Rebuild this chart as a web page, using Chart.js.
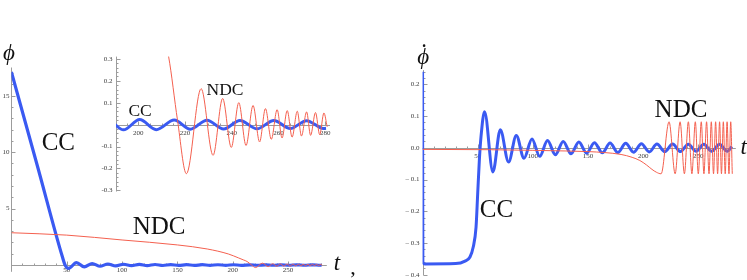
<!DOCTYPE html>
<html>
<head>
<meta charset="utf-8">
<script src="https://cdn.jsdelivr.net/npm/chart.js@4.4.1/dist/chart.umd.min.js"></script>
<style>
  html, body { margin: 0; padding: 0; background: #fff; }
  #wrap { position: relative; width: 747px; height: 280px; overflow: hidden; }
  canvas { position: absolute; left: 0; top: 0; }
</style>
</head>
<body>
<div id="wrap">
  <canvas id="phiChart" width="747" height="280"></canvas>
  <canvas id="insetChart" width="747" height="280"></canvas>
  <canvas id="dotChart" width="747" height="280"></canvas>
</div>
<script>
const ccPhiT = [0, 24, 46, 48.5, 51.7, 58.8, 65.9, 73, 80.1, 87.2, 94.3, 101.4, 108.5, 115.6, 122.7, 129.8,
  136.9, 144, 151.1, 158.2, 165.3, 172.4, 179.5, 186.6, 193.7, 200.6, 207.7, 215.4, 222.3, 229.4, 236.5,
  243.5, 250.8, 258, 265, 272, 279.2, 280.3];
const ccPhiV = [17.1, 8.6, 0.75, 0, -0.3, 0.22, -0.16, 0.13, -0.11, 0.09, -0.08, 0.07, -0.06, 0.055, -0.05, 0.045,
  -0.04, 0.037, -0.034, 0.031, -0.029, 0.027, -0.026, 0.025, -0.024, 0.023, -0.023, 0.021, -0.021, 0.02, -0.02,
  0.019, -0.019, 0.019, -0.018, 0.018, -0.018, -0.017];

// phi(t), NDC run
const ndcPhiT = [0, 50, 100, 150, 177, 196, 205, 209.5, 213, 216.8, 220.6, 226.9, 232, 236.1, 239.8, 243, 246.1,
  249.1, 251.9, 254.4, 256.9, 259.4, 261.5, 263.7, 265.8, 268, 269.8, 272, 273.7, 275.8, 277.6, 279.4, 280.8];
const ndcPhiV = [2.86, 2.65, 2.22, 1.78, 1.42, 0.98, 0.64, 0.46, 0.31, 0.02, -0.224, 0.164, -0.14, 0.119, -0.104, 0.1, -0.095,
  0.087, -0.079, 0.073, -0.067, 0.068, -0.061, 0.064, -0.057, 0.061, -0.052, 0.058, -0.049, 0.055, -0.046, 0.053, -0.01];

// d(phi)/dt, CC run
const ccDotT = [0, 0.3, 2, 30, 38.5, 43, 46, 48.5, 50, 51.5, 53, 56.2, 63.8, 70.5, 78, 85, 92, 99.2, 106.2, 113.3,
  120.4, 127.5, 134.6, 141.7, 148.8, 155.8, 163, 170, 177, 184.2, 191.3, 198.4, 205.5, 212.5, 219.6, 226.7,
  233.8, 240.9, 248, 255, 262.1, 269.2, 276.3, 280.5];
const ccDotV = [0.24, -0.36, -0.366, -0.365, -0.357, -0.344, -0.312, -0.25, -0.144, -0.039, 0.035, 0.114, -0.076, 0.057,
  -0.045, 0.039, -0.033, 0.028, -0.027, 0.023, -0.022, 0.02, -0.019, 0.018, -0.017, 0.016, -0.016, 0.015, -0.015,
  0.014, -0.014, 0.013, -0.013, 0.012, -0.012, 0.012, -0.012, 0.011, -0.011, 0.011, -0.011, 0.011, -0.011, 0.004];

// d(phi)/dt, NDC run
const ndcDotT = [0, 60, 100, 130, 150, 165, 180, 190, 197, 203, 208, 212, 216.3, 223.5, 229, 233.5, 237.4, 241, 244.2,
  247.3, 250, 252.7, 255.1, 257.5, 259.7, 261.8, 263.8, 265.7, 267.5, 269.3, 271, 272.7, 274.4, 276.1, 277.8, 279.4, 280.8];
const ndcDotV = [-0.005, -0.006, -0.008, -0.01, -0.012, -0.015, -0.021, -0.03, -0.04, -0.054, -0.068, -0.077, -0.082,
  0.082, -0.082, 0.082, -0.082, 0.082, -0.082, 0.082, -0.082, 0.082, -0.082, 0.082, -0.082, 0.082, -0.082, 0.082,
  -0.082, 0.082, -0.082, 0.082, -0.082, 0.082, -0.082, 0.082, -0.082];

// tick labels
const phiXTicks = [50, 100, 150, 200, 250];
const phiYTicks = [5, 10, 15];
const insetXTicks = [200, 220, 240, 260, 280];
const insetYTicks = [0.3, 0.2, 0.1, -0.1, -0.2, -0.3];
const insetYLabels = ['0.3', '0.2', '0.1', '-0.1', '-0.2', '-0.3'];
const dotXTicks = [50, 100, 150, 200, 250];
const dotYTicks = [0.2, 0.1, 0, -0.1, -0.2, -0.3, -0.4];
const dotYLabels = ['0.2', '0.1', '0.0', '\u2013 0.1', '\u2013 0.2', '\u2013 0.3', '\u2013 0.4'];

const BLUE = '#3a5af2';
const RED = '#f4604f';
const serif = '"Liberation Serif", "DejaVu Serif", serif';

const pts = (ts, vs) => ts.map((t, i) => ({ x: t, y: vs[i] }));

// Mathematica-style axes: lines crossing at the origin, inward ticks, tiny labels
const mathAxes = {
  id: 'mAxes',
  beforeDatasetsDraw(chart, args, o) {
    const { ctx } = chart;
    const xs = chart.scales.x, ys = chart.scales.y;
    const ax = Math.round(xs.getPixelForValue(xs.min)) + 0.5;
    const ay = Math.round(ys.getPixelForValue(0)) + 0.5;
    ctx.save();
    ctx.strokeStyle = '#9c9c9c';
    ctx.lineWidth = 1;
    ctx.beginPath();
    ctx.moveTo(xs.left, ay); ctx.lineTo(xs.right, ay);
    ctx.moveTo(ax, ys.top); ctx.lineTo(ax, ys.bottom);
    ctx.stroke();

    const isMajor = (v, list) => list.some(m => Math.abs(m - v) < 1e-6);
    ctx.beginPath();
    for (let k = 1; ; k++) {
      const v = o.xStart + k * o.xStep;
      if (v > xs.max) break;
      const px = Math.round(xs.getPixelForValue(v)) + 0.5;
      const len = isMajor(v, o.xTicks) ? 4 : 2;
      ctx.moveTo(px, ay); ctx.lineTo(px, ay - len);
    }
    for (let k = -40; k <= 40; k++) {
      const v = k * o.yStep;
      if (v < ys.min || v > ys.max || k === 0) continue;
      const py = Math.round(ys.getPixelForValue(v)) + 0.5;
      const len = isMajor(v, o.yTicks) ? 4 : 2;
      ctx.moveTo(ax, py); ctx.lineTo(ax + len, py);
    }
    ctx.stroke();

    ctx.fillStyle = '#3c3c3c';
    ctx.font = '7px ' + serif;
    ctx.textAlign = 'center';
    ctx.textBaseline = 'top';
    o.xTicks.forEach(v => ctx.fillText(String(v), xs.getPixelForValue(v), ay + o.xGap));
    ctx.textAlign = 'right';
    ctx.textBaseline = 'middle';
    o.yTicks.forEach((v, i) => ctx.fillText(o.yLabels ? o.yLabels[i] : String(v), ax - o.yGap, ys.getPixelForValue(v)));
    ctx.restore();
  },
  afterDraw(chart, args, o) {
    const { ctx } = chart;
    const xs = chart.scales.x, ys = chart.scales.y;
    ctx.save();
    ctx.fillStyle = '#111';
    ctx.textAlign = 'center';
    ctx.textBaseline = 'middle';
    (o.texts || []).forEach(tx => {
      const px = xs.getPixelForValue(tx.x), py = ys.getPixelForValue(tx.y);
      if (tx.dot) {
        ctx.beginPath(); ctx.arc(px, py, 1.3, 0, Math.PI * 2); ctx.fill();
        return;
      }
      ctx.font = tx.font;
      ctx.fillText(tx.text, px, py);
    });
    ctx.restore();
  }
};

function makeChart(id, datasets, xr, yr, pad, axes) {
  return new Chart(document.getElementById(id), {
    type: 'line',
    data: { datasets },
    options: {
      responsive: false,
      animation: false,
      events: [],
      layout: { padding: pad },
      elements: { point: { radius: 0 }, line: { cubicInterpolationMode: 'monotone' } },
      scales: {
        x: { type: 'linear', min: xr[0], max: xr[1], display: false },
        y: { type: 'linear', min: yr[0], max: yr[1], display: false }
      },
      plugins: { legend: { display: false }, tooltip: { enabled: false }, mAxes: axes }
    },
    plugins: [mathAxes]
  });
}

const big = '25px ' + serif;
const mid = '17.5px ' + serif;
const ital = 'italic 23px ' + serif;

// left panel: phi(t)
makeChart('phiChart', [
  { data: pts(ndcPhiT, ndcPhiV), borderColor: RED, borderWidth: 1 },
  { data: pts(ccPhiT, ccPhiV), borderColor: BLUE, borderWidth: 3.2 }
], [0, 285], [-0.6, 17.5], { left: 11.4, right: 420.2, top: 67.5, bottom: 8.2 }, {
  xTicks: phiXTicks, xStart: 0, xStep: 10, yTicks: phiYTicks, yStep: 1, xGap: 1.5, yGap: 2,
  texts: [
    { text: 'CC', x: 42.4, y: 10.78, font: big },
    { text: 'NDC', x: 133.4, y: 3.32, font: big },
    { text: '\u03d5', x: -2.3, y: 18.7, font: ital },
    { text: 't', x: 294.1, y: 0.1, font: ital },
    { text: ',', x: 308.7, y: -0.3, font: '22px ' + serif }
  ]
});

// inset: late-time zoom of phi(t)
makeChart('insetChart', [
  { data: pts(ndcPhiT, ndcPhiV), borderColor: RED, borderWidth: 1, clip: 0 },
  { data: pts(ccPhiT, ccPhiV), borderColor: BLUE, borderWidth: 3 }
], [190.5, 282], [-0.305, 0.31], { left: 116, right: 417, top: 56.6, bottom: 88.5 }, {
  xTicks: insetXTicks, xStart: 190, xStep: 5, yTicks: insetYTicks, yLabels: insetYLabels, yStep: 0.02,
  xGap: 4, yGap: 4,
  texts: [
    { text: 'CC', x: 200.8, y: 0.062, font: mid },
    { text: 'NDC', x: 237.1, y: 0.158, font: mid }
  ]
});

// right panel: d(phi)/dt
makeChart('dotChart', [
  { data: pts(ndcDotT, ndcDotV), borderColor: RED, borderWidth: 1 },
  { data: pts(ccDotT, ccDotV), borderColor: BLUE, borderWidth: 3 }
], [0, 284], [-0.402, 0.245], { left: 422.55, right: 11.2, top: 70.06, bottom: 4.65 }, {
  xTicks: dotXTicks, xStart: 0, xStep: 10, yTicks: dotYTicks, yLabels: dotYLabels, yStep: 0.02,
  xGap: 4, yGap: 4,
  texts: [
    { text: 'CC', x: 67.0, y: -0.196, font: big },
    { text: 'NDC', x: 234.3, y: 0.118, font: big },
    { text: '\u03d5', x: 0.6, y: 0.282, font: ital },
    { dot: true, x: 1.4, y: 0.322 },
    { text: 't', x: 291.2, y: 0.0, font: ital }
  ]
});
</script>
</body>
</html>
